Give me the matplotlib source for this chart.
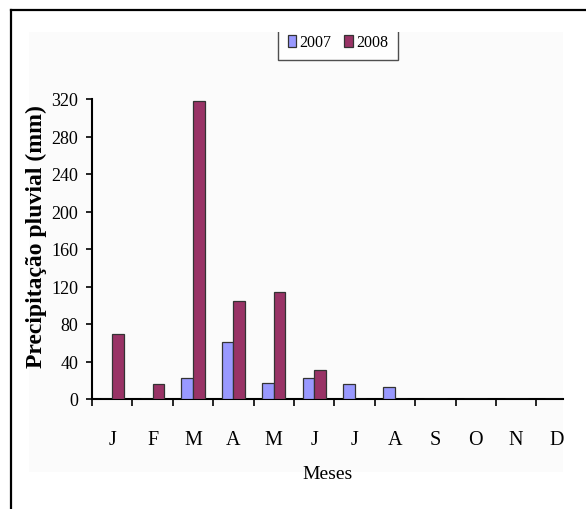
import matplotlib
matplotlib.use("Agg")
import matplotlib.pyplot as plt
import numpy as np
from matplotlib.patches import Rectangle
from matplotlib.lines import Line2D
from matplotlib.transforms import Bbox, TransformedBbox

months = ["J", "F", "M", "A", "M", "J", "J", "A", "S", "O", "N", "D"]
rain_2007 = [0, 0, 22, 61, 17, 22, 16, 13, 0, 0, 0, 0]
rain_2008 = [69, 16, 318, 105, 114, 31, 0, 0, 0, 0, 0, 0]
series_labels = ["2007", "2008"]
yticks = [0, 40, 80, 120, 160, 200, 240, 280, 320]

W, H = 586, 510
fig = plt.figure(figsize=(W / 100, H / 100), dpi=100)
fig.patch.set_facecolor("white")

serif = ["Liberation Serif", "DejaVu Serif"]

# subtle chart-area background
fig.add_artist(Rectangle((29 / W, 1 - 473 / H), (563 - 29) / W, (473 - 33) / H,
                         transform=fig.transFigure, facecolor="#FBFBFB",
                         edgecolor="none", zorder=-10))
# outer border (left and top only visible)
fig.add_artist(Line2D([11 / W, 11 / W], [-0.1, 1 - 11 / H], transform=fig.transFigure,
                      color="black", lw=1.6))
fig.add_artist(Line2D([11 / W, 1.1], [1 - 11 / H, 1 - 11 / H], transform=fig.transFigure,
                      color="black", lw=1.6))

ax = fig.add_axes([92 / W, 1 - 400 / H, (563 - 92) / W, 300 / H])
ax.set_facecolor("none")

x = np.arange(len(months))
bw = 1 / 3.5
ax.bar(x - bw / 2, rain_2007, width=bw, color="#9999FF", edgecolor="#333333",
       linewidth=0.9, label=series_labels[0], zorder=3)
ax.bar(x + bw / 2, rain_2008, width=bw, color="#993366", edgecolor="#333333",
       linewidth=0.9, label=series_labels[1], zorder=3)

ax.set_xlim(-0.5, 11.16)
ax.set_ylim(0, 320)

for s in ["top", "right"]:
    ax.spines[s].set_visible(False)
for s in ["left", "bottom"]:
    ax.spines[s].set_linewidth(1.5)
    ax.spines[s].set_color("black")

ax.set_yticks(yticks)
ax.set_yticklabels([str(v) for v in yticks], fontfamily=serif, fontsize=13)
ax.tick_params(axis="y", direction="out", length=4, width=1.2, pad=6)

ax.set_xticks(x)
ax.set_xticklabels(months, fontfamily=serif, fontsize=14.5)
ax.tick_params(axis="x", which="major", length=0, pad=22)
ax.set_xticks(np.arange(-0.5, 11.0, 1.0), minor=True)
ax.tick_params(axis="x", which="minor", direction="out", length=5, width=1.2)

ax.set_xlabel("Meses", fontfamily=serif, fontsize=14, labelpad=12)
ax.set_ylabel("Precipitação pluvial (mm)", fontfamily=serif, fontsize=17,
              fontweight="bold")
ax.yaxis.set_label_coords(-45 / 471, 0.545)

leg = ax.legend(loc="lower center", bbox_to_anchor=(338 / W, 1 - 61 / H),
                bbox_transform=fig.transFigure, ncol=2, frameon=True,
                fancybox=False, prop={"family": serif, "size": 11.5},
                handlelength=0.55, handleheight=0.8, handletextpad=0.2,
                columnspacing=0.8, borderpad=0.6, borderaxespad=0)
frame = leg.get_frame()
frame.set_edgecolor("#222222")
frame.set_linewidth(1.0)
frame.set_facecolor("white")
clip = TransformedBbox(Bbox([[0, 0], [1, 1 - 33 / H]]), fig.transFigure)
frame.set_clip_box(clip)
frame.set_clip_on(True)

fig.savefig("out.png", dpi=100)
